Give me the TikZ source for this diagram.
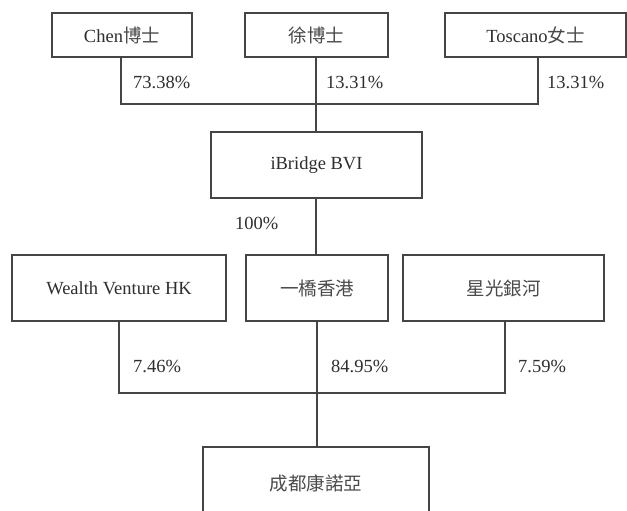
\documentclass[tikz,border=0pt]{standalone}
\usepackage{fontspec}
\setmainfont{Liberation Serif}
\newfontfamily\cjkfam{Noto Sans CJK TC}
\definecolor{linec}{HTML}{454545}
\definecolor{textc}{HTML}{2E2E2E}
\definecolor{cjkc}{HTML}{4A4A4A}
\newcommand{\cjk}[1]{{\cjkfam\color{cjkc}#1}}
\begin{document}
\begin{tikzpicture}[x=1pt,y=-1pt,
  every node/.style={text=textc,font=\fontsize{18.5}{20}\selectfont},
  orgbox/.style={draw=linec,line width=1.1pt,inner sep=0pt},
  pct/.style={anchor=west,inner sep=0pt},
  link/.style={draw=linec,line width=1.1pt}]
\clip (0,0) rectangle (627,511);
\fill[white] (0,0) rectangle (627,511);
% top row
\node[orgbox,minimum width=140pt,minimum height=44pt] (chen) at (122,35) {Chen\cjk{博士}};
\node[orgbox,minimum width=143pt,minimum height=44pt] (xu) at (316.5,35) {\cjk{徐博士}};
\node[orgbox,minimum width=181pt,minimum height=44pt] (tos) at (535.5,35) {Toscano\cjk{女士}};
% iBridge
\node[orgbox,minimum width=211pt,minimum height=66pt] (ib) at (316.5,165) {iBridge BVI};
% second row
\node[orgbox,minimum width=214pt,minimum height=66pt] (wv) at (119,288) {Wealth Venture HK};
\node[orgbox,minimum width=142pt,minimum height=66pt] (yq) at (317,288) {\cjk{一橋香港}};
\node[orgbox,minimum width=201pt,minimum height=66pt] (xg) at (503.5,288) {\cjk{星光銀河}};
% bottom
\node[orgbox,minimum width=226pt,minimum height=72pt] (cd) at (316,483) {\cjk{成都康諾亞}};
% junctions
\coordinate (c1) at (121,104);
\coordinate (c2) at (316,104);
\coordinate (c3) at (538,104);
\coordinate (d1) at (119,393);
\coordinate (d2) at (317,393);
\coordinate (d3) at (505,393);
% connectors
\draw[link] (chen.south -| c1) -- (c1) -- (c3) -- (tos.south -| c3);
\draw[link] (xu.south -| c2) -- (ib.north -| c2);
\draw[link] (ib.south -| c2) -- (yq.north -| c2);
\draw[link] (wv.south -| d1) -- (d1) -- (d3) -- (xg.south -| d3);
\draw[link] (yq.south -| d2) -- (cd.north -| d2);
% labels
\node[pct] (p1) at (133,82) {73.38\%};
\node[pct] (p2) at (326,82) {13.31\%};
\node[pct] (p3) at (547,82) {13.31\%};
\node[pct] (p4) at (235,223) {100\%};
\node[pct] (p5) at (133,366) {7.46\%};
\node[pct] (p6) at (331,366) {84.95\%};
\node[pct] (p7) at (518,366) {7.59\%};
\end{tikzpicture}
\end{document}
